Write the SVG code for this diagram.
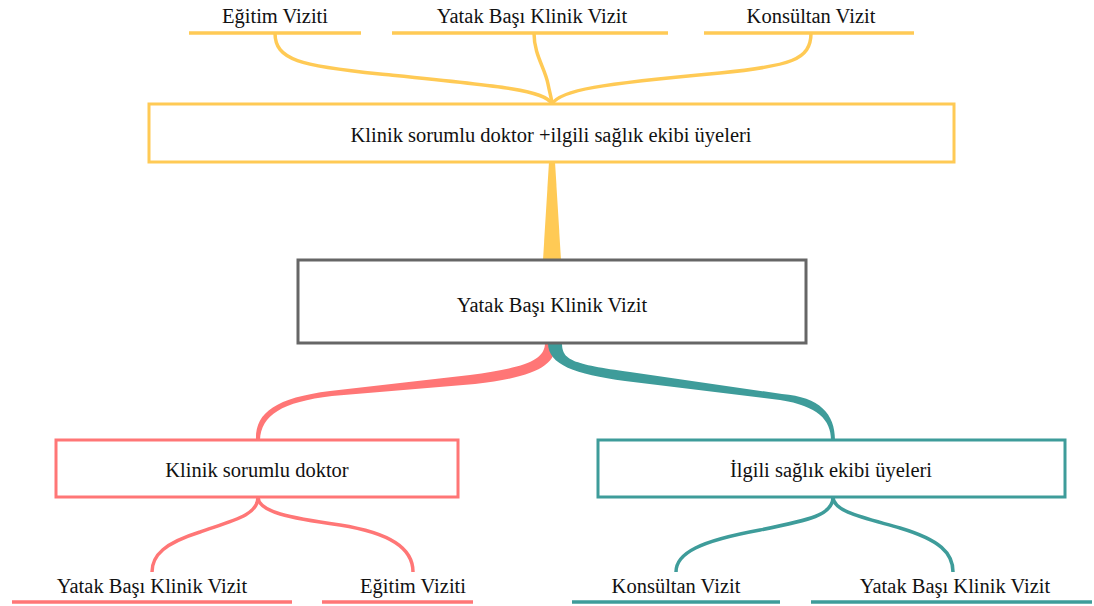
<svg xmlns="http://www.w3.org/2000/svg" width="1094" height="606" viewBox="0 0 1094 606">
<style>
text{font-family:'Liberation Serif','Times New Roman',Times,serif;font-size:20.5px;fill:#111;text-anchor:middle}
.y{stroke:#FFCA55;fill:none;stroke-width:3.5}
.r{stroke:#FF7676;fill:none;stroke-width:3.5}
.t{stroke:#3E9C9A;fill:none;stroke-width:3.5}
.box{fill:#fff;stroke-width:3}
</style>
<rect width="1094" height="606" fill="#fff"/>
<g id="connectors">
<path class="y" d="M275,33 C275,60 300,66 380,74 C500,86 545,90 552,104"/>
<path class="y" d="M534,33 C534,55 545,68 548,84 C550,94 552,100 552,104"/>
<path class="y" d="M811,33 C811,60 790,66 720,73 C600,84 560,90 552,104"/>
<path fill="#FFCA55" d="M549,162 L555,162 L561,260 L543,260 Z"/>
<path fill="#FF7676" d="M545,343 C545,362 520,368 470,375 L330,391 C275,398 255,413 256,440 L260,440 C261,415 282,402 332,396 L475,384 C535,377 556,366 556,343 Z"/>
<path fill="#3E9C9A" d="M548,343 C548,365 575,374 625,381 L780,400 C818,406 831,420 831,440 L835,440 C835,414 820,397 782,394 L630,372 C572,364 562,360 562,343 Z"/>
<path class="r" d="M258,497 C258,515 235,520 200,532 C165,543 152,555 152,572"/>
<path class="r" d="M258,497 C258,512 290,518 340,525 C390,533 413,548 413,572"/>
<path class="t" d="M833,497 C833,515 810,520 760,530 C700,541 676,553 676,572"/>
<path class="t" d="M833,497 C833,512 865,518 900,528 C940,540 953,553 953,572"/>
</g>
<g id="top-labels">
<line class="y" x1="189" y1="33" x2="361" y2="33"/>
<text x="275" y="23">Eğitim Viziti</text>
<line class="y" x1="392" y1="33" x2="668" y2="33"/>
<text x="532" y="23">Yatak Başı Klinik Vizit</text>
<line class="y" x1="704" y1="33" x2="914" y2="33"/>
<text x="811" y="23">Konsültan Vizit</text>
</g>
<g id="node-team">
<rect class="box" x="149" y="104" width="805" height="58" stroke="#FFCA55"/>
<text x="551" y="142">Klinik sorumlu doktor +ilgili sağlık ekibi üyeleri</text>
</g>
<g id="node-main">
<rect class="box" x="298" y="260" width="508" height="83" stroke="#666"/>
<text x="552" y="312">Yatak Başı Klinik Vizit</text>
</g>
<g id="node-doctor">
<rect class="box" x="56" y="440" width="402" height="57" stroke="#FF7676"/>
<text x="257" y="477">Klinik sorumlu doktor</text>
</g>
<g id="node-staff">
<rect class="box" x="598" y="440" width="467" height="57" stroke="#3E9C9A"/>
<text x="831" y="477">İlgili sağlık ekibi üyeleri</text>
</g>
<g id="bottom-labels">
<line class="r" x1="12" y1="602" x2="292" y2="602"/>
<text x="152" y="593">Yatak Başı Klinik Vizit</text>
<line class="r" x1="322" y1="602" x2="473" y2="602"/>
<text x="413" y="593">Eğitim Viziti</text>
<line class="t" x1="572" y1="602" x2="780" y2="602"/>
<text x="676" y="593">Konsültan Vizit</text>
<line class="t" x1="811" y1="602" x2="1092" y2="602"/>
<text x="955" y="593">Yatak Başı Klinik Vizit</text>
</g>
</svg>
